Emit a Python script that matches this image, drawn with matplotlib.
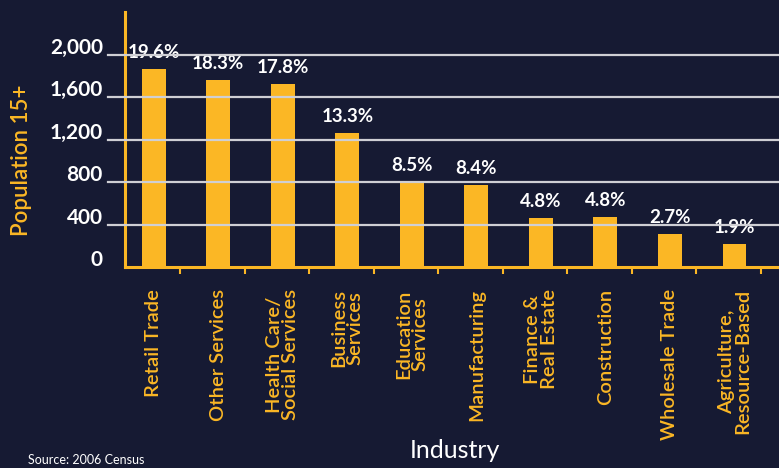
import matplotlib
matplotlib.use("Agg")
import matplotlib.pyplot as plt
import matplotlib.transforms as mtransforms
from matplotlib.lines import Line2D
import numpy as np

industries = ["Retail Trade", "Other Services", "Health Care/\nSocial Services",
              "Business\nServices", "Education\nServices", "Manufacturing",
              "Finance &\nReal Estate", "Construction", "Wholesale Trade",
              "Agriculture,\nResource-Based"]
population = [1868, 1764, 1726, 1264, 799, 774, 462, 472, 311, 217]
percent_labels = ["19.6%", "18.3%", "17.8%", "13.3%", "8.5%", "8.4%",
                  "4.8%", "4.8%", "2.7%", "1.9%"]
y_ticks = [0, 400, 800, 1200, 1600, 2000]
y_tick_labels = ["0", "400", "800", "1,200", "1,600", "2,000"]

BG = "#161a33"
ORANGE = "#fbb725"
GRID = "#cfcfd4"
FONT = ["Lato", "DejaVu Sans"]

plt.rcParams["font.family"] = FONT

W, H = 779, 468
fig = plt.figure(figsize=(W / 100, H / 100), dpi=100, facecolor=BG)
ax = fig.add_axes([125 / W, (H - 267) / H, 1 - 125 / W, 255 / H])
ax.set_facecolor(BG)

x = np.arange(len(industries))
ax.bar(x, population, width=0.37, color=ORANGE, zorder=3)

ax.set_xlim(-0.445, 9.69)
ax.set_ylim(0, 2406)

# gridlines extending left of the y axis
blend = mtransforms.blended_transform_factory(fig.transFigure, ax.transData)
for yv in y_ticks[1:]:
    fig.add_artist(Line2D([108 / W, 1.0], [yv, yv], transform=blend,
                          color=GRID, lw=1.6, zorder=1))

for s in ["top", "right"]:
    ax.spines[s].set_visible(False)
for s in ["left", "bottom"]:
    ax.spines[s].set_color(ORANGE)
    ax.spines[s].set_linewidth(2.2)
    ax.spines[s].set_zorder(4)

# y ticks
ax.set_yticks(y_ticks)
ax.set_yticklabels(y_tick_labels, fontsize=15, fontweight="bold", color="white")
ax.tick_params(axis="y", length=0, pad=16)
offset = mtransforms.ScaledTranslation(0, 9 / 100, fig.dpi_scale_trans)
for lab in ax.get_yticklabels():
    lab.set_transform(lab.get_transform() + offset)

# x ticks: labels at bars, tick marks between
ax.set_xticks(x)
ax.set_xticklabels(industries, rotation=90, fontsize=14.5, color=ORANGE,
                   fontweight="semibold", va="top", ha="center",
                   multialignment="center", linespacing=0.95)
ax.tick_params(axis="x", which="major", length=0, pad=16)
ax.set_xticks(x + 0.41, minor=True)
ax.tick_params(axis="x", which="minor", length=5, width=1.5, color=ORANGE)

# percent labels
for xi, yi, lab in zip(x, population, percent_labels):
    ax.annotate(lab, (xi, yi), xytext=(0, 6), textcoords="offset points",
                ha="center", va="bottom", color="white", fontsize=13.5,
                fontweight="bold", zorder=5)

fig.text(22 / W, 1 - 160 / H, "Population 15+", rotation=90, color=ORANGE,
         fontsize=16, fontweight="semibold", ha="center", va="center")
fig.text(455 / W, 1 - 450 / H, "Industry", color="white", fontsize=18,
         ha="center", va="center")
fig.text(28 / W, 2 / H, "Source: 2006 Census", color="white",
         fontsize=9, ha="left", va="bottom")

fig.savefig("out.png", dpi=100, facecolor=BG)
